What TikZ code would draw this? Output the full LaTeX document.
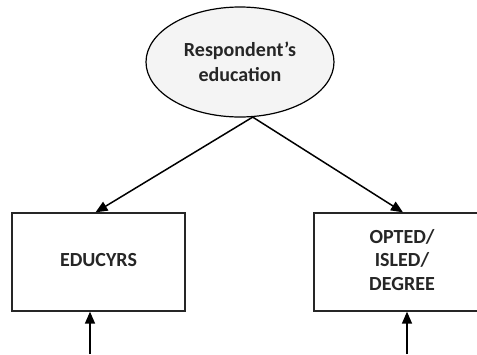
\documentclass[tikz,border=0pt]{standalone}
\usepackage{fontspec}
\setmainfont{Carlito}
\usetikzlibrary{shapes.geometric,arrows.meta,calc}
\newcommand{\stacked}[1]{\raisebox{3pt}{\begin{tabular}{@{}c@{}}#1\end{tabular}}}
\begin{document}
\begin{tikzpicture}[x=1pt,y=-1pt,
  every node/.style={font=\bfseries\fontsize{20}{23.5}\selectfont, align=center, inner sep=0pt, text=black!85},
  latent/.style={ellipse, draw=black, line width=1.2pt, fill=gray!9, minimum width=188pt, minimum height=110pt},
  manifest/.style={rectangle, draw=black!85, line width=1.3pt, fill=white, minimum height=98pt},
  link/.style={line width=1.5pt, -{Triangle[length=12pt,width=10pt]}}]
  \clip (0,0) rectangle (477,354);
  \fill[white] (0,0) rectangle (477,354);
  % latent variable
  \node[latent] (edu) at (240,62) {Respondent's\\[1.5pt]education};
  % observed indicators
  \node[manifest, minimum width=173pt] (yrs) at (98.5,262) {\stacked{EDUCYRS}};
  \node[manifest, minimum width=176pt] (deg) at (402,262) {\stacked{OPTED/\\ISLED/\\DEGREE}};
  % error terms enter from below
  \coordinate (eyrs) at (90,354);
  \coordinate (edeg) at (407,354);
  % loadings
  \draw[link] (edu.-77) -- ([xshift=-3pt]yrs.north);
  \draw[link] (edu.-77) -- ([xshift=1pt]deg.north);
  \draw[link] (eyrs) -- (eyrs |- yrs.south);
  \draw[link] (edeg) -- (edeg |- deg.south);
\end{tikzpicture}
\end{document}
